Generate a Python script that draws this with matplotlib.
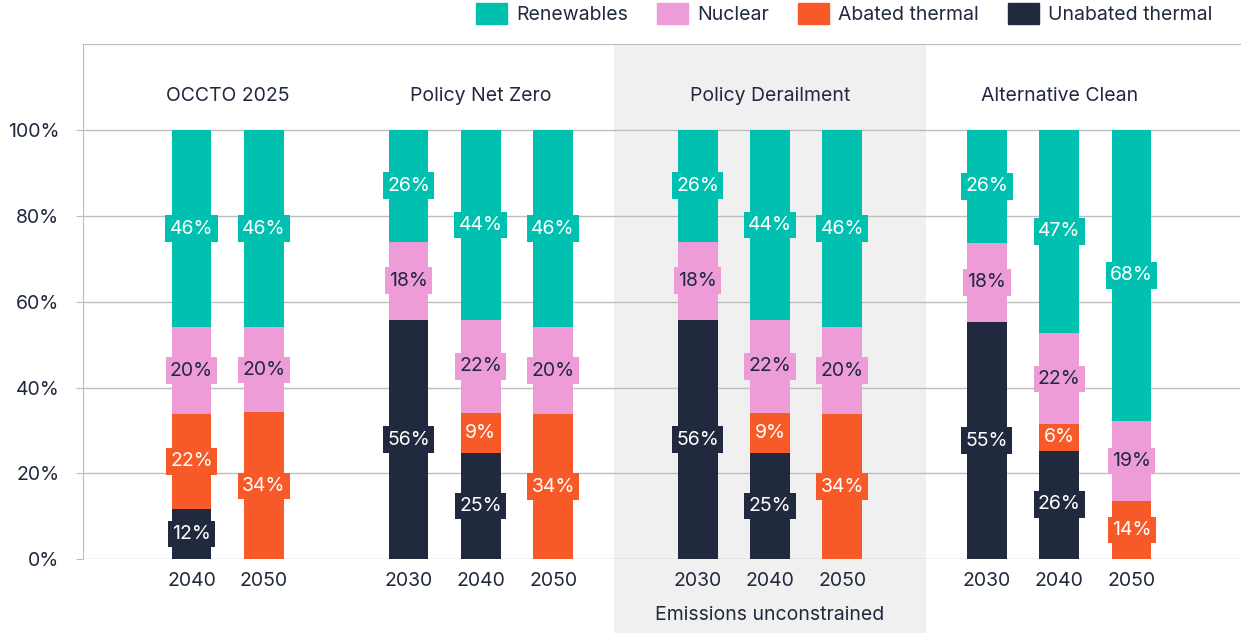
import matplotlib.pyplot as plt
from matplotlib.patches import Patch, Rectangle

plt.rcParams["font.family"] = ["Inter", "DejaVu Sans"]

groups = ["OCCTO 2025", "Policy Net Zero", "Policy Derailment", "Alternative Clean"]
group_years = [
    ["2040", "2050"],
    ["2030", "2040", "2050"],
    ["2030", "2040", "2050"],
    ["2030", "2040", "2050"],
]
# one value per bar, in reading order (left to right)
unabated = [11.7, 0, 55.8, 24.8, 0, 55.8, 24.8, 0, 55.3, 25.6, 0]
abated = [22.2, 34.2, 0, 9.3, 33.9, 0, 9.3, 33.9, 0, 5.6, 13.6]
nuclear = [20.1, 19.8, 18.2, 21.7, 20.1, 18.2, 21.7, 20.1, 18.4, 21.6, 18.6]
renewables = [46.0, 46.0, 26.0, 44.2, 46.0, 26.0, 44.2, 46.0, 26.3, 47.2, 67.8]
shaded_group = "Policy Derailment"
shaded_note = "Emissions unconstrained"

DARK = "#20293d"
GRID = "#bdbdbd"
FS = 14
series = [
    ("Unabated thermal", unabated, DARK, "white"),
    ("Abated thermal", abated, "#f75a28", "white"),
    ("Nuclear", nuclear, "#ee9cd8", DARK),
    ("Renewables", renewables, "#00c0b0", "white"),
]

# bar positions: one empty slot between groups
positions, labels, centers = [], [], []
x = 0
for years in group_years:
    start = x
    for y in years:
        positions.append(x)
        labels.append(y)
        x += 1
    centers.append((start + x - 1) / 2)
    x += 1

fig = plt.figure(figsize=(12.47, 6.33), dpi=100)
ax = fig.add_axes([0.0666, 0.1164, 0.9278, 0.8141])

width = 0.55
bottoms = [0.0] * len(positions)
for name, vals, color, tcolor in series:
    ax.bar(positions, vals, width, bottom=bottoms, color=color, zorder=2)
    for p, b, v in zip(positions, bottoms, vals):
        if v <= 0:
            continue
        ax.text(p, b + v / 2, f"{round(v)}%", ha="center", va="center",
                fontsize=FS, color=tcolor, zorder=3,
                bbox=dict(boxstyle="square,pad=0.22", fc=color, ec="none"))
    bottoms = [b + v for b, v in zip(bottoms, vals)]

# shaded scenario
gi = groups.index(shaded_group)
c = centers[gi]
ax.add_patch(Rectangle((c - 2.16, -20), 4.32, 140, facecolor="#f0f0f0",
                       edgecolor="none", zorder=0, clip_on=False))
ax.text(c, -13, shaded_note, ha="center", va="center", fontsize=FS, color=DARK)

for g, c in zip(groups, centers):
    ax.text(c, 107.8, g, ha="center", va="center", fontsize=FS, color=DARK)

ax.set_xlim(-1.5, 14.5)
ax.set_ylim(0, 120)
ax.set_yticks(range(0, 101, 20))
ax.set_yticklabels([f"{t}%" for t in range(0, 101, 20)])
ax.set_xticks(positions)
ax.set_xticklabels(labels)
ax.tick_params(axis="y", length=5, color=GRID, pad=12, labelsize=FS, labelcolor=DARK)
ax.tick_params(axis="x", length=0, pad=9, labelsize=FS, labelcolor=DARK)
ax.grid(axis="y", color=GRID, linewidth=1, zorder=1)
ax.set_axisbelow(True)
ax.patch.set_visible(False)
for s in ["right", "bottom"]:
    ax.spines[s].set_visible(False)
for s in ["left", "top"]:
    ax.spines[s].set_color(GRID)
    ax.spines[s].set_zorder(1)

handles = [Patch(color=col, label=n) for n, _, col, _ in series[::-1]]
leg = fig.legend(handles=handles, ncol=4, loc="upper right",
                 bbox_to_anchor=(1212 / 1247, 1 - 3 / 633), frameon=False,
                 fontsize=FS, handlelength=1.6, handleheight=1.3,
                 handletextpad=0.45, columnspacing=1.5, borderpad=0,
                 borderaxespad=0)
for t in leg.get_texts():
    t.set_color(DARK)

fig.savefig("out.png", dpi=100)
